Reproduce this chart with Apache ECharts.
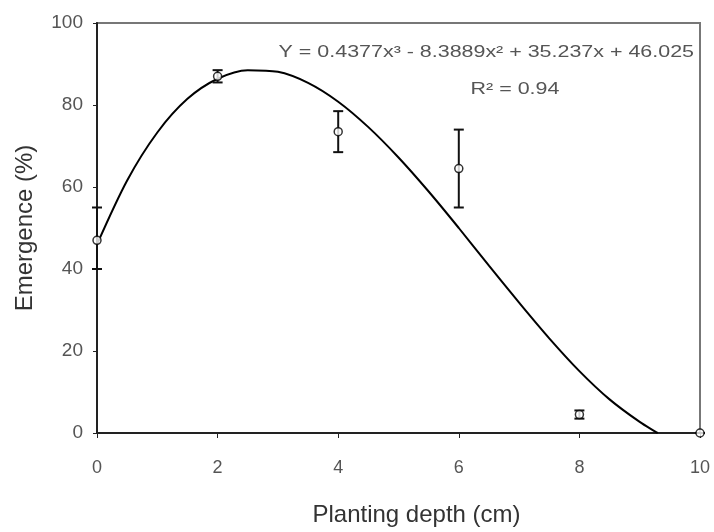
<!DOCTYPE html>
<html>
<head>
<meta charset="utf-8">
<script src="https://cdn.jsdelivr.net/npm/echarts@6/dist/echarts.min.js"></script>
<style>
  html, body { margin: 0; padding: 0; background: #fff; }
  #chart { width: 714px; height: 532px; }
</style>
</head>
<body>
<div id="chart"></div>
<script>
// observed means at each planting depth
const depths = [0, 2, 4, 6, 8, 10];
const emergence = [47, 87, 73.5, 64.5, 4.5, 0];
const errLow = [40, 85.5, 68.5, 55, 3.5, 0];
const errHigh = [55, 88.5, 78.5, 74, 5.5, 0];

// fitted cubic
const fitX = [0, 0.5, 1, 1.5, 2, 2.5, 3, 3.5, 4, 4.5, 5, 5.5, 6, 6.5, 7, 7.5, 8, 8.5, 9, 9.3];
const fitY = [46, 61.6, 73.3, 81.5, 86.4, 88.5, 88.1, 85.4, 80.8, 74.6, 67.2, 58.9, 50, 40.8, 31.8, 23.1, 15.1, 8.2, 2.7, 0];

const xTicks = [0, 2, 4, 6, 8, 10];
const yTicks = [0, 20, 40, 60, 80, 100];

const chart = echarts.init(document.getElementById("chart"));

const font = "Liberation Sans, Arial, sans-serif";

chart.setOption({
  animation: false,
  grid: {
    left: 97,
    right: 14,
    top: 23,
    bottom: 97,
    show: true,
    borderColor: "#777",
    borderWidth: 2,
  },
  xAxis: {
    type: "value",
    min: xTicks[0],
    max: xTicks[xTicks.length - 1],
    interval: 2,
    name: "Planting depth (cm)",
    nameLocation: "middle",
    nameGap: 70,
    nameTextStyle: { fontFamily: font, fontSize: 24, color: "#333", padding: [0, 0, 0, 36] },
    axisLine: { lineStyle: { color: "#222", width: 2 } },
    axisTick: { show: true, length: 5, lineStyle: { color: "#222" } },
    axisLabel: { margin: 26, fontFamily: font, fontSize: 18, color: "#555" },
    splitLine: { show: false },
  },
  yAxis: {
    type: "value",
    min: yTicks[0],
    max: yTicks[yTicks.length - 1],
    interval: 20,
    name: "Emergence (%)",
    nameLocation: "middle",
    nameGap: 60,
    nameTextStyle: { fontFamily: font, fontSize: 24, color: "#333" },
    axisLine: { lineStyle: { color: "#222", width: 2 } },
    axisTick: { show: true, length: 4, lineStyle: { color: "#222" } },
    axisLabel: { margin: 14, fontFamily: font, fontSize: 19, color: "#555" },
    splitLine: { show: false },
  },
  series: [
    {
      type: "line",
      data: fitX.map((x, i) => [x, fitY[i]]),
      smooth: 0.3,
      showSymbol: false,
      lineStyle: { color: "#000", width: 2 },
      z: 2,
    },
    {
      type: "custom",
      data: depths.map((x, i) => [x, errLow[i], errHigh[i]]),
      renderItem: function (params, api) {
        const lo = api.coord([api.value(0), api.value(1)]);
        const hi = api.coord([api.value(0), api.value(2)]);
        const w = 5;
        const style = { stroke: "#111", lineWidth: 2 };
        return {
          type: "group",
          children: [
            { type: "line", shape: { x1: lo[0], y1: lo[1], x2: hi[0], y2: hi[1] }, style },
            { type: "line", shape: { x1: lo[0] - w, y1: lo[1], x2: lo[0] + w, y2: lo[1] }, style },
            { type: "line", shape: { x1: hi[0] - w, y1: hi[1], x2: hi[0] + w, y2: hi[1] }, style },
          ],
        };
      },
      z: 3,
    },
    {
      type: "scatter",
      data: depths.map((x, i) => [x, emergence[i]]),
      symbol: "circle",
      symbolSize: 8,
      itemStyle: { color: "#fff", borderColor: "#000", borderWidth: 1.5 },
      z: 4,
    },
  ],
  graphic: [
    {
      type: "text",
      x: 694,
      y: 53,
      scaleX: 1.34,
      style: {
        text: "Y = 0.4377x³ - 8.3889x² + 35.237x + 46.025",
        fontFamily: font,
        fontSize: 16,
        fill: "#555",
        align: "right",
        verticalAlign: "middle",
      },
    },
    {
      type: "text",
      x: 515,
      y: 90,
      scaleX: 1.34,
      style: {
        text: "R² = 0.94",
        fontFamily: font,
        fontSize: 16,
        fill: "#555",
        align: "center",
        verticalAlign: "middle",
      },
    },
  ],
});
</script>
</body>
</html>
